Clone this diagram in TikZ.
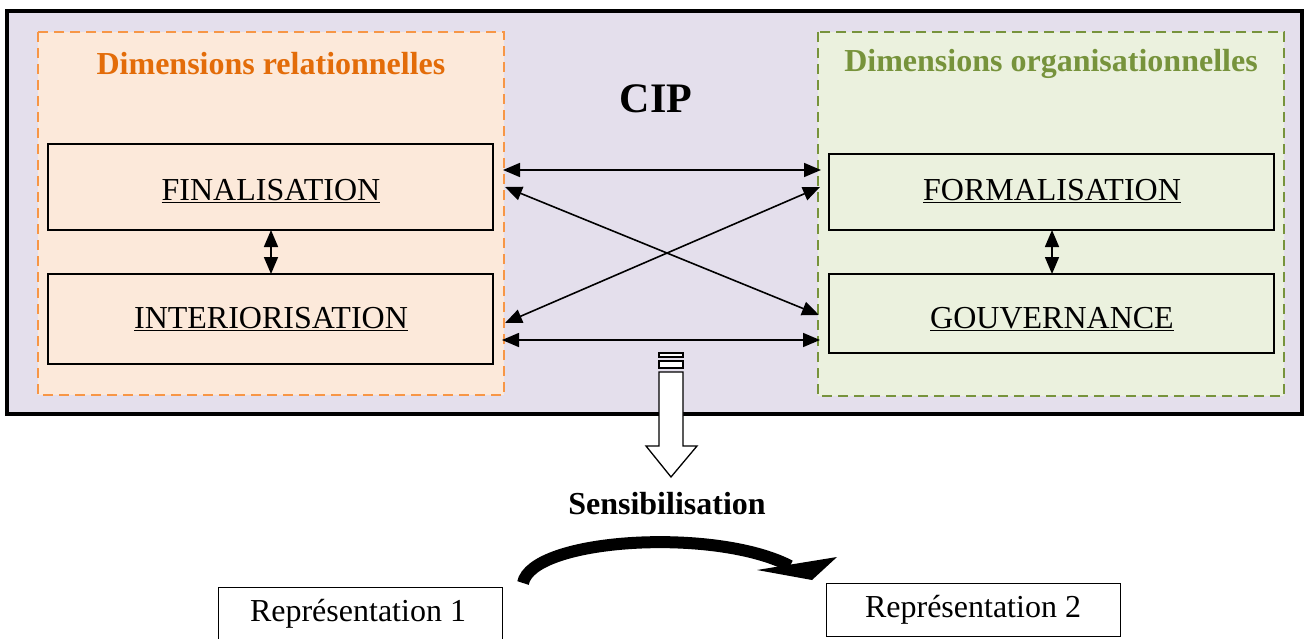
\documentclass[tikz,border=0pt]{standalone}
\usepackage{fontspec}
\setmainfont{Liberation Serif}
\usetikzlibrary{arrows.meta}
\definecolor{lav}{HTML}{E4DFEC}
\definecolor{peach}{HTML}{FCE9DA}
\definecolor{lgreen}{HTML}{EBF1DE}
\definecolor{orgT}{HTML}{E36C09}
\definecolor{orgD}{HTML}{F79646}
\definecolor{grnD}{HTML}{77933C}
\tikzset{
  dimbox/.style={draw=black, line width=1.5pt, inner sep=0pt},
  lbl/.style={font=\fontsize{32}{36}\selectfont, inner sep=0pt},
  ttl/.style={font=\fontsize{32}{36}\selectfont\bfseries, inner sep=0pt},
  dbl/.style={{Triangle[length=17pt,width=14pt]}-{Triangle[length=17pt,width=14pt]}, line width=1.6pt},
  repbox/.style={draw=black, line width=1pt, fill=white}
}
\begin{document}
\begin{tikzpicture}[x=1pt,y=-1pt]
\clip (0,0) rectangle (1308,639);
\useasboundingbox (0,0) rectangle (1308,639);
\fill[white] (0,0) rectangle (1308,639);
% outer frame
\draw[line width=4pt, fill=lav] (7,11) rectangle (1302,414);
% dashed groups
\draw[orgD, line width=2.6pt, dash pattern=on 10pt off 6pt, fill=peach] (38,32) rectangle (504,395);
\draw[grnD, line width=2.6pt, dash pattern=on 10pt off 6pt, fill=lgreen] (818,32) rectangle (1284,396);
\node[ttl, text=orgT] (tr) at (271,64) {Dimensions relationnelles};
\node[ttl, text=grnD] (tg) at (1051,64) {Dimensions organisationnelles};
\node[font=\fontsize{42}{46}\selectfont\bfseries, inner sep=0pt] (cip) at (656,99) {CIP};
% boxes
\draw[dimbox, fill=peach] (48,144) rectangle (493,230);
\node[lbl] (fin) at (271,191) {\underline{FINALISATION}};
\draw[dimbox, fill=peach] (48,274) rectangle (493,364);
\node[lbl] (int) at (271,319) {\underline{INTERIORISATION}};
\draw[dimbox, fill=lgreen] (829,154) rectangle (1274,230);
\node[lbl] (form) at (1052,191) {\underline{FORMALISATION}};
\draw[dimbox, fill=lgreen] (829,274) rectangle (1274,353);
\node[lbl] (gouv) at (1052,319) {\underline{GOUVERNANCE}};
% coordinates for connectors
\coordinate (finb) at (271,230);
\coordinate (intt) at (271,274);
\coordinate (formb) at (1052,230);
\coordinate (gouvt) at (1052,274);
\coordinate (L1) at (503,170);
\coordinate (R1) at (821,170);
\coordinate (L2) at (502,340);
\coordinate (R2) at (820,340);
\coordinate (L3) at (505,187);
\coordinate (R3) at (819,315);
\coordinate (L4) at (505,323);
\coordinate (R4) at (820,187);
\draw[dbl] (finb) -- (intt);
\draw[dbl] (formb) -- (gouvt);
\draw[dbl] (L1) -- (R1);
\draw[dbl] (L2) -- (R2);
\draw[dbl] (L3) -- (R3);
\draw[dbl] (L4) -- (R4);
% block arrow
\draw[line width=1.3pt, fill=white] (659,353) rectangle (683,357);
\draw[line width=1.3pt, fill=white] (659,361) rectangle (683,368);
\draw[line width=1.3pt, fill=white, line join=miter]
  (659,372) -- (683,372) -- (683,446) -- (697,446) -- (671,477) -- (646,446) -- (659,446) -- cycle;
\node[ttl] (sens) at (667,504) {Sensibilisation};
% representations
\draw[repbox] (218,587) rectangle (502,650);
\node[lbl] (r1) at (358,614) {Représentation 1};
\draw[repbox] (826,583) rectangle (1120,636);
\node[lbl] (r2) at (973,610) {Représentation 2};
% curved arrow
\coordinate (cs) at (523,583);
\coordinate (ce) at (790,566);
\draw[line width=12pt] (cs) .. controls (532,538) and (715,527) .. (ce);
\fill (757,570) -- (837,557) -- (812,580) -- cycle;
\end{tikzpicture}
\end{document}
